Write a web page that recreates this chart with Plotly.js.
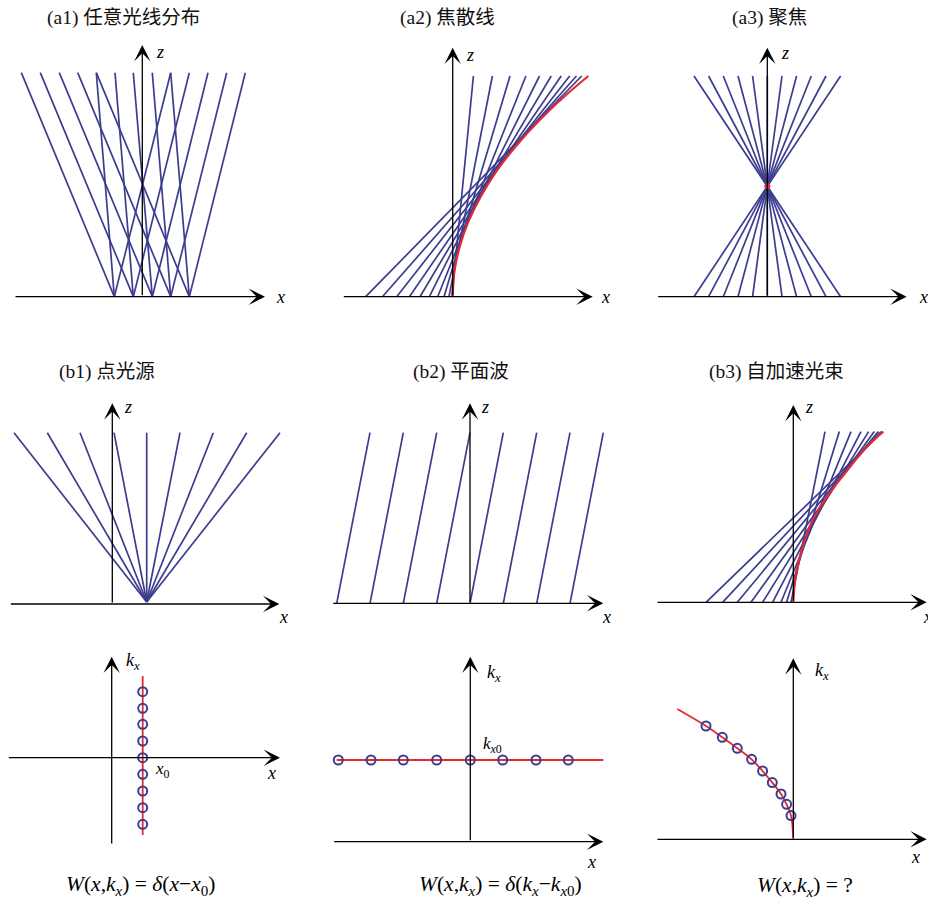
<!DOCTYPE html>
<html>
<head>
<meta charset="utf-8">
<script src="https://cdn.plot.ly/plotly-3.0.1.min.js"></script>
<style>html,body{margin:0;padding:0;background:#fff;}</style>
</head>
<body>
<div id="chart" style="width:928px;height:901px;"></div>
<script>
// ---------------- DATA (panel-relative units: origin at axis crossing, z / kx upward) ----------------
// (a1) arbitrary ray distribution
const a1RayBottom = [-28, -9, 10, 28.4, 47,   -28, -9, 10, 28.4, 47,   -28, -9, 10, 28.4, 47];
const a1RayTop    = [-121, -102, -83, -64.6, -46,   -46, -27.3, -9, 10, 28.4,   28.4, 47, 65.7, 84.4, 103];
const a1TopZ = 224;
// (a2) caustic
const a2RayBottom = [-87, -70.3, -56, -43.3, -32.7, -23.3, -15, -8.7, -3.7, -0.8];
const a2RayTop    = [129, 123.7, 117, 108.5, 98.5, 86.8, 73.2, 57.3, 39.7, 20.7];
const a2TopZ = 220.7;
const a2CausticX = [0, 1.7, 7, 15.7, 28, 43.5, 62.7, 85.3, 111.4, 135.7];
const a2CausticZ = [0, 25, 50, 75, 100, 125, 150, 175, 200, 220.7];
// (a3) focusing
const a3RayTop = [-73.3, -58.7, -44, -29.3, -14.7, 0, 14.7, 29.3, 44, 58.7, 73.3];
const a3RayBottom = [73.3, 58.7, 44, 29.3, 14.7, 0, -14.7, -29.3, -44, -58.7, -73.3];
const a3TopZ = 220.7;
const a3Focus = [0, 110.4];
// (b1) point source
const b1Source = [34.4, 2];
const b1RayTop = [-98.3, -65, -32.3, 1.7, 34.4, 67.7, 101, 134.4, 167.7];
const b1TopZ = 171.3;
// (b2) plane wave
const b2RayBottom = [-133.3, -100, -66.7, -33.3, 0, 33.3, 66.7, 100];
const b2RayTop    = [-100, -66.7, -33.3, 0, 33.3, 66.7, 100, 133.3];
const b2TopZ = 170.7;
// (b3) self-accelerating beam
const b3RayBottom = [-2.3, -6.7, -12.3, -20.7, -30.7, -42.3, -56, -70.7, -87.3];
const b3RayTop    = [31.7, 46, 57.7, 67.7, 75.3, 81, 85, 87.7, 89.3];
const b3TopZ = 170.7;
const b3CausticX = [0, 1.6, 5.2, 10.8, 18.5, 30, 40.5, 52.5, 64.5, 78, 90];
const b3CausticZ = [0, 20, 40, 60, 80, 100, 115, 130, 145, 160, 170.7];
// (c1) Wigner of point source
const c1X0 = 31;
const c1Kx = [66, 49.4, 33.4, 16.7, 0, -16.6, -33.3, -50, -66.6];
const c1LineKx = [-77.3, 81.7];
// (c2) Wigner of plane wave
const c2Kx0 = 81.7;
const c2X = [-132, -99.3, -67, -33.6, 0, 32.4, 65.7, 98];
const c2LineX = [-133.6, 133];
// (c3) Wigner of accelerating beam
const c3CurveX = [-116, -87.3, -71, -56, -41.7, -30.7, -21, -12.3, -6.7, -2.3, 0];
const c3CurveK = [130.3, 113.3, 102, 91, 80, 68.3, 56.7, 45.3, 35, 23.7, 0];
const c3PointX = [-87.3, -71, -56, -41.7, -30.7, -21, -12.3, -6.7, -2.3];
const c3PointK = [113.3, 102, 91, 80, 68.3, 56.7, 45.3, 35, 23.7];

const titles = ['(a1) 任意光线分布', '(a2) 焦散线', '(a3) 聚焦', '(b1) 点光源', '(b2) 平面波', '(b3) 自加速光束'];

// ---------------- LAYOUT GEOMETRY ----------------
const W = 928, H = 901;
const BLUE = '#3c3d8f', RED = '#e52a2f';
const SERIF = 'Liberation Serif, DejaVu Serif, serif';
const panels = [
  {box:[0,310,0,330],   o:[142.3,296.7], xa:[-128.3,122.7], za:[0,251.7], xl:[137.7,0], zl:[17.7,244.7], t:[123.5,18]},
  {box:[310,620,0,330], o:[452.7,296.7], xa:[-110.4,140],   za:[0,249],   xl:[152.3,0], zl:[17.3,241.7], t:[447.5,18]},
  {box:[620,928,0,330], o:[767.3,296.7], xa:[-110.6,139.4], za:[0,249],   xl:[156,0],   zl:[17.7,243.7], t:[769,18]},
  {box:[0,310,330,635],   o:[112.3,604],   xa:[-103,167],    za:[0,200.7], xl:[170.7,-12.7], zl:[15.4,197], t:[106.7,372]},
  {box:[310,620,330,635], o:[470,603.3],   xa:[-138.3,133.3],za:[0,200],   xl:[136.7,-13.4], zl:[15,196.3], t:[461,372]},
  {box:[620,928,330,635], o:[793.3,602.3], xa:[-137.3,133.4],za:[0,197.3], xl:[134,-14.7],   zl:[16,195.3], t:[776,372]},
  {box:[0,310,635,901],   o:[111.7,757.7], xa:[-104.4,168.3],za:[-87.3,101], xl:[160,-15.6], zl:[21,96], t:null},
  {box:[310,620,635,901], o:[470.3,841.7], xa:[-137.6,133],  za:[0,185],   xl:[121.4,-20], zl:[24,168.4], t:null},
  {box:[620,928,635,901], o:[793.3,839.3], xa:[-137.3,133.4],za:[0,181],   xl:[121.7,-18], zl:[29,167.6], t:null}
];

const layout = {
  width: W, height: H, margin:{l:0,r:0,t:0,b:0},
  paper_bgcolor:'#fff', plot_bgcolor:'rgba(0,0,0,0)', showlegend:false,
  annotations: [], shapes: []
};
const data = [];

panels.forEach((p, i) => {
  const n = i + 1, xs = n === 1 ? '' : n, xk = 'xaxis' + xs, yk = 'yaxis' + xs;
  const [bx0, bx1, by0, by1] = p.box, [ox, oy] = p.o;
  layout[xk] = {domain:[bx0/W, bx1/W], range:[bx0-ox, bx1-ox], visible:false, fixedrange:true, anchor:'y'+xs};
  layout[yk] = {domain:[1-by1/H, 1-by0/H], range:[oy-by1, oy-by0], visible:false, fixedrange:true, anchor:'x'+xs};
  p.xr = 'x' + xs; p.yr = 'y' + xs;
  const arr = (x, y, ax, ay) => ({xref:p.xr, yref:p.yr, axref:p.xr, ayref:p.yr, x:x, y:y, ax:ax, ay:ay,
      text:'', showarrow:true, arrowhead:3, arrowsize:2.1, arrowwidth:1.3, arrowcolor:'#000', standoff:0, startstandoff:0});
  layout.annotations.push(arr(p.xa[1], 0, p.xa[0], 0));
  layout.annotations.push(arr(0, p.za[1], 0, p.za[0]));
});

function paperPos(p, dx, dz) { return [(p.o[0]+dx)/W, 1-(p.o[1]-dz)/H]; }
function label(p, dx, dz, text, size) {
  const [x, y] = paperPos(p, dx, dz);
  layout.annotations.push({xref:'paper', yref:'paper', x:x, y:y, text:text, showarrow:false,
    xanchor:'center', yanchor:'middle', font:{family:SERIF, size:size||18, color:'#000'}});
}

function rays(i, x0, z0, x1, z1, color, width) {
  const p = panels[i], xs = [], ys = [];
  for (let k = 0; k < x0.length; k++) { xs.push(x0[k], x1[k], null); ys.push(z0[k], z1[k], null); }
  data.push({type:'scatter', mode:'lines', x:xs, y:ys, xaxis:p.xr, yaxis:p.yr,
    line:{color:color||BLUE, width:width||1.7}, hoverinfo:'skip'});
}
const fill = (n, v) => Array(n).fill(v);

rays(0, a1RayBottom, fill(a1RayBottom.length, 0), a1RayTop, fill(a1RayTop.length, a1TopZ));
rays(1, a2RayBottom, fill(a2RayBottom.length, 0), a2RayTop, fill(a2RayTop.length, a2TopZ));
data.push({type:'scatter', mode:'lines', x:a2CausticX, y:a2CausticZ, xaxis:panels[1].xr, yaxis:panels[1].yr,
  line:{color:RED, width:2.2, shape:'spline'}, hoverinfo:'skip'});
rays(2, a3RayBottom, fill(a3RayBottom.length, 0), a3RayTop, fill(a3RayTop.length, a3TopZ));
data.push({type:'scatter', mode:'markers', x:[a3Focus[0]], y:[a3Focus[1]], xaxis:panels[2].xr, yaxis:panels[2].yr,
  marker:{color:RED, size:6}, hoverinfo:'skip'});
rays(3, fill(b1RayTop.length, b1Source[0]), fill(b1RayTop.length, b1Source[1]), b1RayTop, fill(b1RayTop.length, b1TopZ));
rays(4, b2RayBottom, fill(b2RayBottom.length, 0), b2RayTop, fill(b2RayTop.length, b2TopZ));
rays(5, b3RayBottom, fill(b3RayBottom.length, 0), b3RayTop, fill(b3RayTop.length, b3TopZ));
data.push({type:'scatter', mode:'lines', x:b3CausticX, y:b3CausticZ, xaxis:panels[5].xr, yaxis:panels[5].yr,
  line:{color:RED, width:2.2, shape:'spline'}, hoverinfo:'skip'});

const ring = {symbol:'circle-open', size:9, color:BLUE, line:{width:2, color:BLUE}};
data.push({type:'scatter', mode:'lines', x:[c1X0, c1X0], y:c1LineKx, xaxis:panels[6].xr, yaxis:panels[6].yr,
  line:{color:RED, width:1.8}, hoverinfo:'skip'});
data.push({type:'scatter', mode:'markers', x:fill(c1Kx.length, c1X0), y:c1Kx, xaxis:panels[6].xr, yaxis:panels[6].yr,
  marker:ring, hoverinfo:'skip'});
data.push({type:'scatter', mode:'lines', x:c2LineX, y:[c2Kx0, c2Kx0], xaxis:panels[7].xr, yaxis:panels[7].yr,
  line:{color:RED, width:1.8}, hoverinfo:'skip'});
data.push({type:'scatter', mode:'markers', x:c2X, y:fill(c2X.length, c2Kx0), xaxis:panels[7].xr, yaxis:panels[7].yr,
  marker:ring, hoverinfo:'skip'});
data.push({type:'scatter', mode:'lines', x:c3CurveX, y:c3CurveK, xaxis:panels[8].xr, yaxis:panels[8].yr,
  line:{color:RED, width:1.8, shape:'spline'}, hoverinfo:'skip'});
data.push({type:'scatter', mode:'markers', x:c3PointX, y:c3PointK, xaxis:panels[8].xr, yaxis:panels[8].yr,
  marker:ring, hoverinfo:'skip'});

panels.forEach((p, i) => {
  label(p, p.xl[0], p.xl[1], '<i>x</i>', 18);
  label(p, p.zl[0], p.zl[1], i < 6 ? '<i>z</i>' : '<i>k<sub>x</sub></i>', 18);
  if (p.t) {
    layout.annotations.push({xref:'paper', yref:'paper', x:p.t[0]/W, y:1-p.t[1]/H, text:titles[i], showarrow:false,
      xanchor:'center', yanchor:'middle', font:{family:'Liberation Serif, Noto Sans CJK SC, serif', size:19.5, color:'#111'}});
  }
});
label(panels[6], 51, -12, '<i>x</i><sub>0</sub>', 17);
label(panels[7], 22, 97, '<i>k</i><sub><i>x</i>0</sub>', 17);
const formulas = ['<i>W</i>(<i>x</i>,<i>k<sub>x</sub></i>) = <i>δ</i>(<i>x</i>−<i>x</i><sub>0</sub>)',
                  '<i>W</i>(<i>x</i>,<i>k<sub>x</sub></i>) = <i>δ</i>(<i>k<sub>x</sub></i>−<i>k</i><sub><i>x</i>0</sub>)',
                  '<i>W</i>(<i>x</i>,<i>k<sub>x</sub></i>) = ?'];
[[140,885],[500,885],[805,886.7]].forEach((c, j) => {
  layout.annotations.push({xref:'paper', yref:'paper', x:c[0]/W, y:1-c[1]/H, text:formulas[j], showarrow:false,
    xanchor:'center', yanchor:'middle', font:{family:SERIF, size:21.5, color:'#000'}});
});

Plotly.newPlot('chart', data, layout, {staticPlot:true, displayModeBar:false});
</script>
</body>
</html>
